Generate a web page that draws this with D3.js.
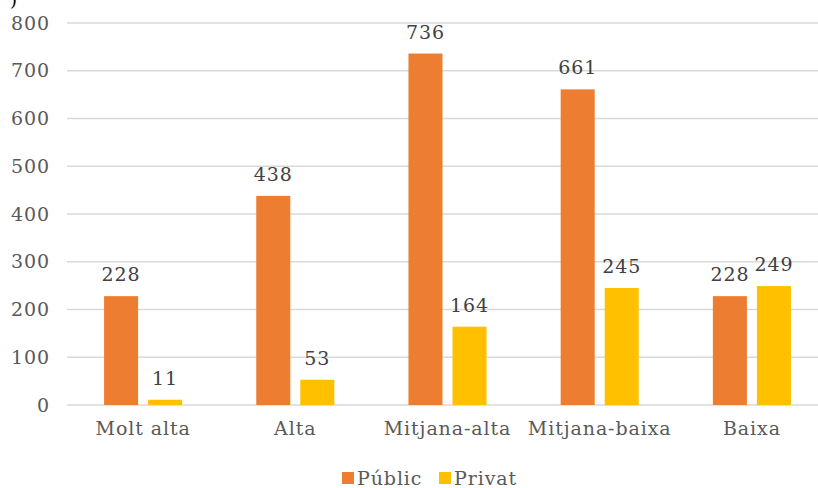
<!DOCTYPE html>
<html><head><meta charset="utf-8">
<script src="https://cdn.jsdelivr.net/npm/d3@7"></script>
<style>body{margin:0;background:#fff}svg{display:block}</style>
</head><body>
<svg id="c" width="818" height="488"></svg>
<script>
const categories = ["Molt alta","Alta","Mitjana-alta","Mitjana-baixa","Baixa"];
const seriesNames = ["Públic","Privat"];
const publicValues = [228,438,736,661,228];
const privatValues = [11,53,164,245,249];
const yTicks = [0,100,200,300,400,500,600,700,800];
const colors = ["#ED7D31","#FFC000"];

const svg = d3.select("#c");
const font = "'DejaVu Serif', serif";
const fs = 19, ls = 0.9;
const y = d3.scaleLinear().domain([0,800]).range([405,23]);
const x = d3.scaleBand().domain(categories).range([67,828]).paddingInner(0.487).paddingOuter(0.2435);
const xs = d3.scaleBand().domain(seriesNames).range([0,x.bandwidth()]).paddingInner(0.227);

// gridlines
svg.append("g").selectAll("line").data(yTicks).join("line")
  .attr("x1",67).attr("x2",818).attr("y1",d=>y(d)).attr("y2",d=>y(d))
  .attr("stroke","#d9d9d9").attr("stroke-width",1.3);

// y axis
const ya = svg.append("g").attr("transform","translate(50,0)")
  .call(d3.axisLeft(y).tickValues(yTicks).tickSize(0).tickPadding(0));
ya.select(".domain").remove();
ya.selectAll("text").attr("font-family",font).attr("font-size",fs).attr("letter-spacing",ls).attr("fill","#595959");

// x axis labels
const xa = svg.append("g").attr("transform","translate(0,405)")
  .call(d3.axisBottom(x).tickSize(0).tickPadding(17));
xa.select(".domain").remove();
xa.selectAll("text").attr("font-family",font).attr("font-size",fs).attr("letter-spacing",ls).attr("fill","#595959");

const data = categories.map((c,i)=>({cat:c, vals:[publicValues[i],privatValues[i]]}));
const groups = svg.append("g").selectAll("g").data(data).join("g")
  .attr("transform",d=>`translate(${x(d.cat)},0)`);
groups.selectAll("rect").data(d=>d.vals.map((v,j)=>({s:seriesNames[j],v,j}))).join("rect")
  .attr("x",d=>xs(d.s)).attr("width",xs.bandwidth())
  .attr("y",d=>y(d.v)).attr("height",d=>y(0)-y(d.v))
  .attr("fill",d=>colors[d.j]);
groups.selectAll("text").data(d=>d.vals.map((v,j)=>({s:seriesNames[j],v,j}))).join("text")
  .attr("x",d=>xs(d.s)+xs.bandwidth()/2).attr("y",d=>y(d.v)-15)
  .attr("text-anchor","middle").attr("font-family",font).attr("font-size",fs).attr("letter-spacing",ls)
  .attr("fill","#404040").text(d=>d.v);

// legend
const leg = svg.append("g").attr("transform","translate(342,478)");
const lx = [0,97];
seriesNames.forEach((s,i)=>{
  leg.append("rect").attr("x",lx[i]).attr("y",-6).attr("width",12).attr("height",12).attr("fill",colors[i]);
  leg.append("text").attr("x",lx[i]+15).attr("y",0).attr("dy","0.35em")
    .attr("font-family",font).attr("font-size",fs).attr("letter-spacing",ls).attr("fill","#595959").text(s);
});

// clipped text at top-left
svg.append("text").attr("x",10).attr("y",6).attr("font-family",font).attr("font-size",18).attr("fill","#000").text(")");
</script>
</body></html>
